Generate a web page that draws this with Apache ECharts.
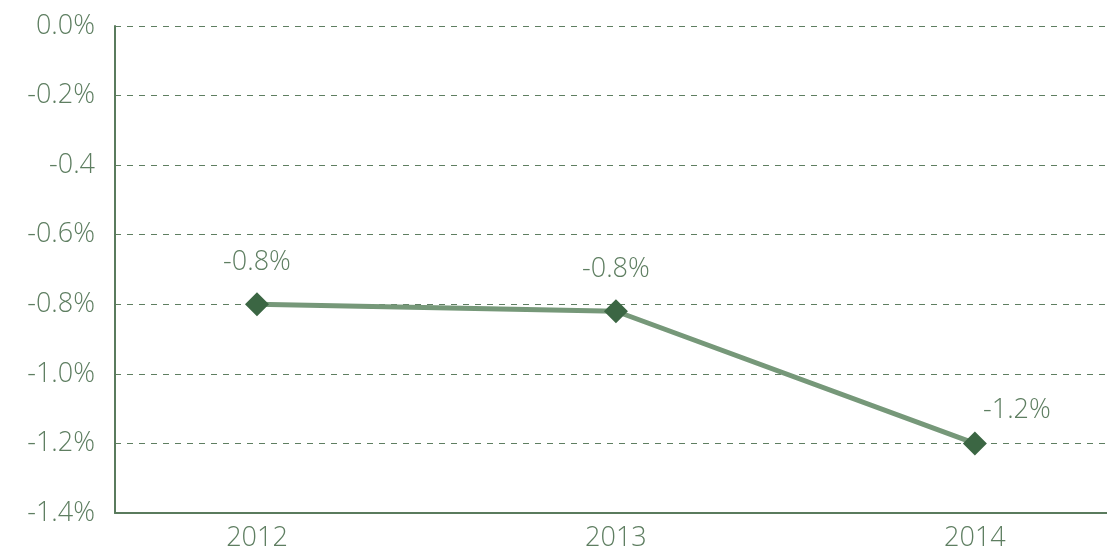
<!DOCTYPE html>
<html>
<head>
<meta charset="utf-8">
<script src="https://cdn.jsdelivr.net/npm/echarts@6/dist/echarts.min.js"></script>
<style>
html,body{margin:0;padding:0;background:#fff;}
#chart{width:1107px;height:554px;}
</style>
</head>
<body>
<div id="chart"></div>
<script>
var years = [2012, 2013, 2014];
var values = [-0.80, -0.82, -1.20];
var pointLabels = ['-0.8%', '-0.8%', '-1.2%'];
var yTickLabels = ['-1.4%', '-1.2%', '-1.0%', '-0.8%', '-0.6%', '-0.4', '-0.2%', '0.0%'];

var textColor = '#5e7e61';
var fontFamily = '"Open Sans", Lato, sans-serif';

var chart = echarts.init(document.getElementById('chart'));
var seriesData = years.map(function (y, i) {
  var item = { value: [y, values[i]], label: { formatter: pointLabels[i] } };
  if (i === 2) { item.label.offset = [42, 8]; }
  return item;
});

chart.setOption({
  animation: false,
  grid: { left: 115, right: 0, top: 26, bottom: 41 },
  xAxis: {
    type: 'value',
    min: 2011.6045,
    max: 2014.368,
    axisLine: { show: true, onZero: false, lineStyle: { color: '#5a7b5d', width: 2 } },
    axisTick: { show: false },
    splitLine: { show: false },
    axisLabel: {
      customValues: years,
      formatter: function (v) { return String(Math.round(v)); },
      color: textColor,
      fontFamily: fontFamily,
      fontWeight: 300,
      fontSize: 27,
      margin: 12
    }
  },
  yAxis: {
    type: 'value',
    min: -1.4,
    max: 0,
    interval: 0.2,
    axisLine: { show: true, onZero: false, lineStyle: { color: '#5a7b5d', width: 2 } },
    axisTick: { show: false },
    splitLine: { show: true, lineStyle: { color: '#5e7e61', type: [6, 6], width: 1 } },
    axisLabel: {
      formatter: function (v) {
        var idx = Math.round((v + 1.4) / 0.2);
        return yTickLabels[idx];
      },
      color: textColor,
      fontFamily: fontFamily,
      fontWeight: 300,
      fontSize: 27,
      margin: 20
    }
  },
  series: [{
    type: 'line',
    data: seriesData,
    symbol: 'diamond',
    symbolSize: 24,
    lineStyle: { color: '#769879', width: 5 },
    itemStyle: { color: '#3b6643' },
    label: {
      show: true,
      position: 'top',
      distance: 16,
      color: textColor,
      fontFamily: fontFamily,
      fontWeight: 300,
      fontSize: 27
    }
  }]
});
</script>
</body>
</html>
